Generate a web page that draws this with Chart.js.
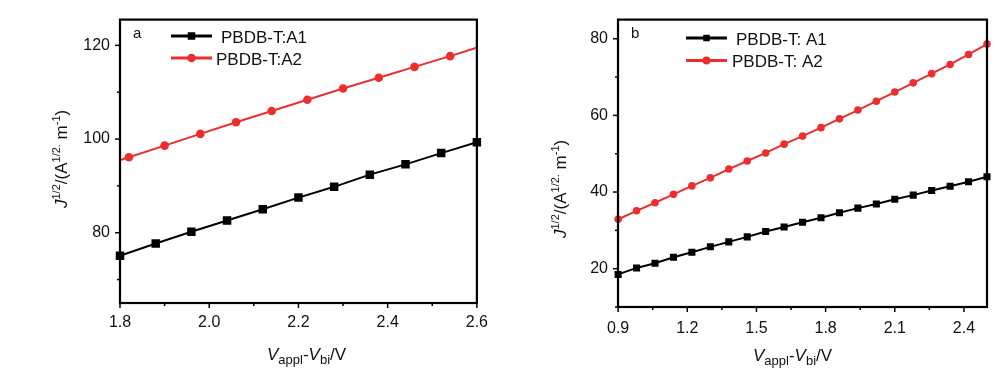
<!DOCTYPE html>
<html>
<head>
<meta charset="utf-8">
<script src="https://cdn.jsdelivr.net/npm/chart.js@4/dist/chart.umd.min.js"></script>
<style>
  html, body { margin: 0; padding: 0; background: #fff; }
  #wrap { position: relative; width: 998px; height: 382px; overflow: hidden; }
  #cA { position: absolute; left: 0; top: 0; }
  #cB { position: absolute; left: 498px; top: 0; }
</style>
</head>
<body>
<div id="wrap">
  <canvas id="cA" width="498" height="382"></canvas>
  <canvas id="cB" width="500" height="382"></canvas>
</div>
<script>
// ---------- Panel a data ----------
const aX_A1 = [1.80, 1.88, 1.96, 2.04, 2.12, 2.20, 2.28, 2.36, 2.44, 2.52, 2.60];
const aY_A1 = [75.1, 77.7, 80.2, 82.6, 85.0, 87.5, 89.8, 92.4, 94.6, 97.0, 99.3];
const aX_A2 = [1.74, 1.82, 1.90, 1.98, 2.06, 2.14, 2.22, 2.30, 2.38, 2.46, 2.54, 2.62];
const aY_A2 = [93.7, 96.1, 98.6, 101.1, 103.6, 106.0, 108.4, 110.8, 113.1, 115.4, 117.7, 120.1];
const aXTicks = ['1.8', '2.0', '2.2', '2.4', '2.6'];
const aYTicks = ['80', '100', '120'];

// ---------- Panel b data ----------
const bX = [0.90, 0.98, 1.06, 1.14, 1.22, 1.30, 1.38, 1.46, 1.54, 1.62, 1.70,
            1.78, 1.86, 1.94, 2.02, 2.10, 2.18, 2.26, 2.34, 2.42, 2.50];
const bY_A1 = [18.5, 20.2, 21.4, 23.0, 24.3, 25.7, 27.0, 28.3, 29.7, 30.9, 32.1,
               33.3, 34.6, 35.8, 36.9, 38.1, 39.2, 40.4, 41.5, 42.7, 44.0];
const bY_A2 = [32.9, 35.1, 37.2, 39.4, 41.6, 43.7, 46.0, 48.1, 50.2, 52.5, 54.6,
               56.8, 59.1, 61.4, 63.7, 66.1, 68.5, 70.9, 73.3, 75.9, 78.6];
const bXTicks = ['0.9', '1.2', '1.5', '1.8', '2.1', '2.4'];
const bYTicks = ['20', '40', '60', '80'];

const aLegend = ['PBDB-T:A1', 'PBDB-T:A2'];
const bLegend = ['PBDB-T: A1', 'PBDB-T: A2'];

const RED = '#ec2e2e';
const BLACK = '#000000';
const FONT = "'Liberation Sans', Arial, sans-serif";

function pts(xs, ys) { return xs.map((x, i) => ({ x: x, y: ys[i] })); }

function fmt(v) { return (Math.round(v * 100) / 100).toFixed(1); }

function drawRich(ctx, segs, x, y, rot) {
  ctx.save();
  ctx.translate(x, y);
  if (rot) ctx.rotate(rot);
  ctx.fillStyle = '#111';
  ctx.textBaseline = 'alphabetic';
  ctx.textAlign = 'left';
  let cx = 0;
  segs.forEach(s => {
    ctx.font = (s.italic ? 'italic ' : '') + s.size + 'px ' + FONT;
    ctx.fillText(s.t, cx, s.dy || 0);
    cx += ctx.measureText(s.t).width;
  });
  ctx.restore();
}

const xTitleSegs = [
  { t: 'V', size: 17, italic: true },
  { t: 'appl', size: 13, dy: 4 },
  { t: '-', size: 17 },
  { t: 'V', size: 17, italic: true },
  { t: 'bi', size: 13, dy: 4 },
  { t: '/V', size: 17 }
];
const yTitleSegs = [
  { t: 'J', size: 17, italic: true },
  { t: '1/2', size: 11, dy: -7 },
  { t: '/(A', size: 17 },
  { t: '1/2.', size: 11, dy: -7 },
  { t: ' m', size: 17 },
  { t: '-1', size: 11, dy: -7 },
  { t: ')', size: 17 }
];

function makeDecor(cfg) {
  return {
    id: 'decor',
    afterDatasetsDraw(chart) {
      const ctx = chart.ctx;
      const a = chart.chartArea;
      const xs = chart.scales.x, ys = chart.scales.y;
      ctx.save();
      ctx.strokeStyle = '#000';
      // ticks
      ctx.lineWidth = 1.5;
      xs.ticks.forEach(t => {
        const px = xs.getPixelForValue(t.value);
        const len = t.label ? 5 : 3;
        ctx.beginPath(); ctx.moveTo(px, a.bottom); ctx.lineTo(px, a.bottom + len); ctx.stroke();
      });
      ys.ticks.forEach(t => {
        const py = ys.getPixelForValue(t.value);
        const len = t.label ? 5 : 3;
        ctx.beginPath(); ctx.moveTo(a.left, py); ctx.lineTo(a.left - len, py); ctx.stroke();
      });
      // frame
      ctx.lineWidth = 2.2;
      ctx.strokeRect(a.left, a.top, a.right - a.left, a.bottom - a.top);

      // panel letter
      ctx.fillStyle = '#111';
      ctx.font = '15px ' + FONT;
      ctx.textBaseline = 'alphabetic';
      ctx.fillText(cfg.letter, cfg.letterX, cfg.letterY);

      // legend
      cfg.legend.forEach((lg, i) => {
        ctx.strokeStyle = lg.color;
        ctx.fillStyle = lg.color;
        ctx.lineWidth = 3;
        ctx.beginPath(); ctx.moveTo(cfg.legX0, lg.y); ctx.lineTo(cfg.legX1, lg.y); ctx.stroke();
        const mx = (cfg.legX0 + cfg.legX1) / 2;
        if (lg.shape === 'rect') {
          ctx.fillRect(mx - cfg.sq / 2, lg.y - cfg.sq / 2, cfg.sq, cfg.sq);
        } else {
          ctx.beginPath(); ctx.arc(mx, lg.y, cfg.cr, 0, Math.PI * 2); ctx.fill();
        }
        ctx.fillStyle = '#111';
        ctx.font = '17px ' + FONT;
        ctx.fillText(lg.text, lg.tx, lg.ty);
      });
      ctx.restore();

      drawRich(ctx, xTitleSegs, cfg.xtX, cfg.xtY, 0);
      drawRich(ctx, yTitleSegs, cfg.ytX, cfg.ytY, -Math.PI / 2);
    }
  };
}

function makeChart(id, opt) {
  return new Chart(document.getElementById(id), {
    type: 'line',
    data: {
      datasets: [
        {
          label: opt.names[0], data: opt.d1, borderColor: BLACK, backgroundColor: BLACK,
          borderWidth: 2, pointStyle: 'rect', pointRadius: opt.sqR, pointHoverRadius: opt.sqR,
          pointBorderWidth: 0, tension: 0, clip: 6
        },
        {
          label: opt.names[1], data: opt.d2, borderColor: RED, backgroundColor: RED,
          borderWidth: 2, pointStyle: 'circle', pointRadius: opt.cR, pointHoverRadius: opt.cR,
          pointBorderWidth: 0, tension: 0, clip: opt.redClip
        }
      ]
    },
    options: {
      responsive: false,
      animation: false,
      events: [],
      layout: { padding: opt.pad },
      plugins: { legend: { display: false }, tooltip: { enabled: false } },
      scales: {
        x: {
          type: 'linear', min: opt.xmin, max: opt.xmax,
          grid: { display: false, drawTicks: false },
          border: { display: false },
          ticks: {
            stepSize: opt.xstep, includeBounds: false, autoSkip: false, maxRotation: 0,
            padding: opt.xpad, color: '#111', font: { family: FONT, size: 16 },
            callback: function (v) {
              const s = fmt(v);
              return opt.xLabels.includes(s) ? s : '';
            }
          },
          afterFit: s => { s.height = opt.xh; }
        },
        y: {
          type: 'linear', min: opt.ymin, max: opt.ymax,
          grid: { display: false, drawTicks: false },
          border: { display: false },
          ticks: {
            stepSize: 10, includeBounds: false, autoSkip: false,
            padding: 10, color: '#111', font: { family: FONT, size: 16 },
            callback: function (v) {
              const s = String(Math.round(v));
              return (Math.abs(v - Math.round(v)) < 1e-6 && opt.yLabels.includes(s)) ? s : '';
            }
          },
          afterFit: s => { s.width = 120; }
        }
      }
    },
    plugins: [makeDecor(opt.decor)]
  });
}

makeChart('cA', {
  names: aLegend,
  d1: pts(aX_A1, aY_A1), d2: pts(aX_A2, aY_A2),
  sqR: 6, cR: 4.3, redClip: 0,
  pad: { left: 0, top: 17, right: 18, bottom: 0 },
  xmin: 1.8, xmax: 2.6, xstep: 0.1, xpad: 10, xh: 79,
  ymin: 65, ymax: 125.5,
  xLabels: aXTicks, yLabels: aYTicks,
  decor: {
    letter: 'a', letterX: 133, letterY: 38,
    legX0: 171, legX1: 212, sq: 7.5, cr: 4.3,
    legend: [
      { color: BLACK, shape: 'rect', y: 36, text: aLegend[0], tx: 221, ty: 43 },
      { color: RED, shape: 'circle', y: 58, text: aLegend[1], tx: 216, ty: 65 }
    ],
    xtX: 267, xtY: 360,
    ytX: 67, ytY: 208
  }
});

makeChart('cB', {
  names: bLegend,
  d1: pts(bX, bY_A1), d2: pts(bX, bY_A2),
  sqR: 5, cR: 3.8, redClip: 6,
  pad: { left: 0, top: 17, right: 11, bottom: 0 },
  xmin: 0.8995, xmax: 2.5, xstep: 0.15, xpad: 12, xh: 75,
  ymin: 10, ymax: 85,
  xLabels: bXTicks, yLabels: bYTicks,
  decor: {
    letter: 'b', letterX: 133, letterY: 38,
    legX0: 188, legX1: 229, sq: 6.5, cr: 4,
    legend: [
      { color: BLACK, shape: 'rect', y: 38, text: bLegend[0], tx: 238, ty: 45 },
      { color: RED, shape: 'circle', y: 60.5, text: bLegend[1], tx: 234, ty: 67 }
    ],
    xtX: 255, xtY: 361,
    ytX: 68, ytY: 238
  }
});
</script>
</body>
</html>
